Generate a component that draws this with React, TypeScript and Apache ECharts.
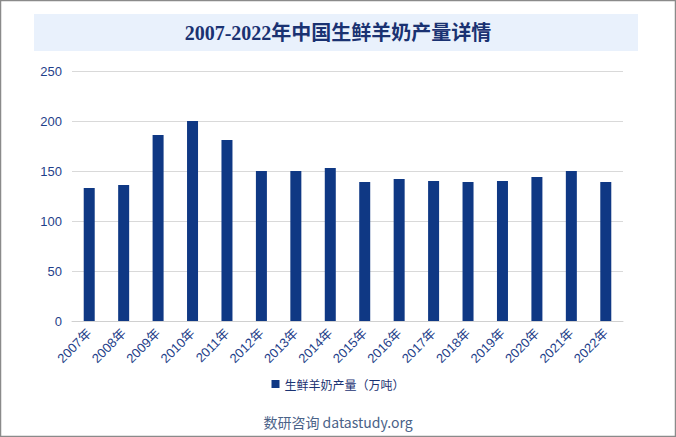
import React, { useEffect, useRef } from "react";
import * as echarts from "echarts";

const categories = ["2007年","2008年","2009年","2010年","2011年","2012年","2013年","2014年","2015年","2016年","2017年","2018年","2019年","2020年","2021年","2022年"];
const production = [133, 136, 186, 200, 181, 150, 150, 153, 139, 142, 140, 139, 140, 144, 150, 139];
const seriesName = "生鲜羊奶产量（万吨）";
const titleText = "2007-2022年中国生鲜羊奶产量详情";
const footerText = "数研咨询 datastudy.org";

export default function App() {
  const ref = useRef<HTMLDivElement>(null);
  useEffect(() => {
    if (!ref.current) return;
    const chart = echarts.init(ref.current, null, { renderer: "svg" });
    const labelColor = "#1f3f8a";
    chart.setOption({
      animation: false,
      backgroundColor: "#ffffff",
      graphic: [
        { type: "rect", shape: { x: 0.5, y: 0.5, width: 675, height: 436 }, style: { fill: "none", stroke: "#8a8a8a", lineWidth: 1.5 }, silent: true },
        { type: "rect", shape: { x: 34, y: 14, width: 604, height: 37 }, style: { fill: "#e9f1fc" }, silent: true },
        { type: "text", x: 338, y: 33, style: { text: titleText, fill: "#1a3272", font: "bold 20px 'Liberation Serif', 'Noto Sans CJK SC'", textAlign: "center", textVerticalAlign: "middle" } },
        { type: "text", x: 338, y: 422, style: { text: footerText, fill: "#4a6288", font: "14px 'Noto Sans CJK SC', sans-serif", textAlign: "center", textVerticalAlign: "middle" } },
      ],
      legend: {
        bottom: 42,
        left: "center",
        itemWidth: 8,
        itemHeight: 8,
        itemGap: 4,
        icon: "rect",
        textStyle: { color: "#1a3272", fontSize: 12, fontFamily: "'Noto Sans CJK SC', sans-serif" },
        data: [seriesName],
      },
      grid: { left: 72, right: 53, top: 71, bottom: 116, containLabel: false },
      xAxis: {
        type: "category",
        data: categories,
        axisLine: { lineStyle: { color: "#d0d0d0" } },
        axisTick: { show: false },
        axisLabel: { rotate: 45, color: labelColor, fontSize: 13, fontFamily: "'Liberation Sans', 'Noto Sans CJK SC', sans-serif", interval: 0, margin: 10 },
      },
      yAxis: {
        type: "value",
        min: 0,
        max: 250,
        interval: 50,
        axisLine: { show: false },
        axisTick: { show: false },
        splitLine: { lineStyle: { color: "#d9d9d9" } },
        axisLabel: { color: labelColor, fontSize: 13, fontFamily: "'Liberation Sans', sans-serif", margin: 10 },
      },
      series: [
        {
          name: seriesName,
          type: "bar",
          data: production,
          barWidth: 11,
          itemStyle: { color: "#0f3884" },
        },
      ],
    });
    return () => chart.dispose();
  }, []);
  return <div ref={ref} style={{ position: "fixed", left: 0, top: 0, width: 676, height: 437 }} />;
}
